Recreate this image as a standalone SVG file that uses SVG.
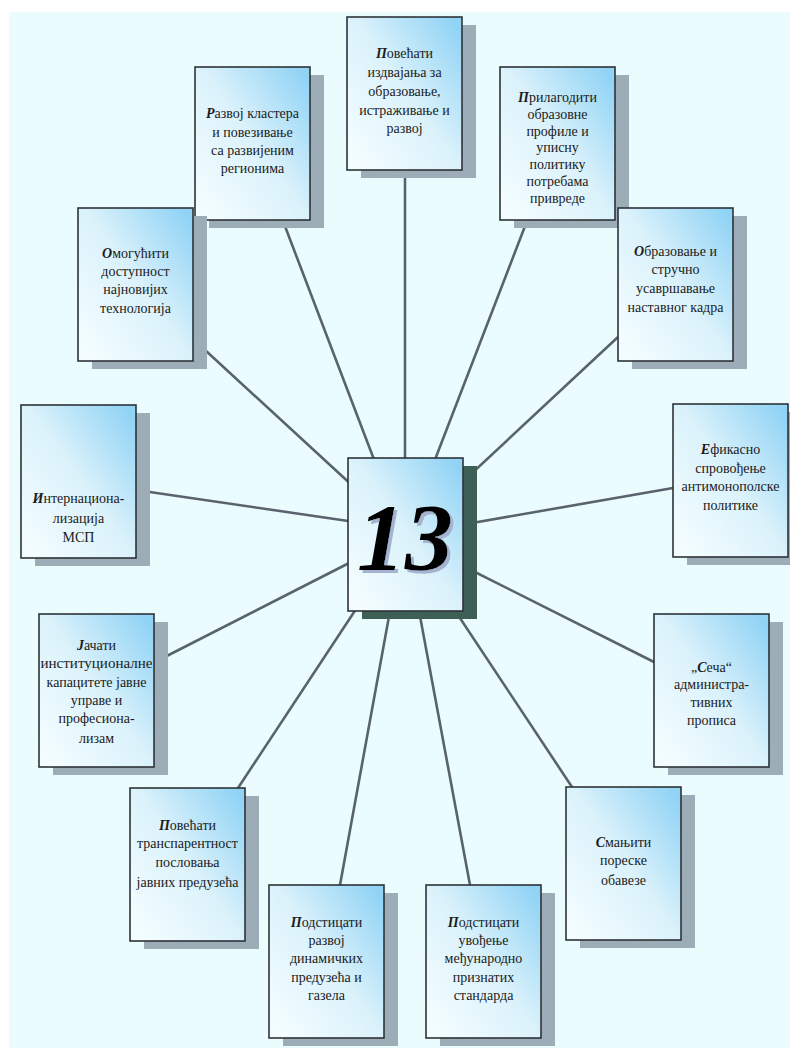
<svg xmlns="http://www.w3.org/2000/svg" width="790" height="1048" viewBox="0 0 790 1048">
<defs>
<linearGradient id="g" x1="0.05" y1="0.9" x2="0.95" y2="0.05">
<stop offset="0" stop-color="#f3fdff"/>
<stop offset="0.5" stop-color="#dbf2fb"/>
<stop offset="1" stop-color="#91d3f5"/>
</linearGradient>
<filter id="ts" x="-10%" y="-10%" width="130%" height="130%">
<feDropShadow dx="3" dy="3" stdDeviation="0.6" flood-color="#a3b3d0" flood-opacity="1"/>
</filter>
<style>
.bx{fill:url(#g);stroke:#2e3338;stroke-width:1.6}
.sh{fill:#9cadb7}
.shc{fill:#3e5f56}
.t{font-family:"Liberation Serif","DejaVu Serif",serif;font-size:14px;fill:#1b1b1b;text-anchor:middle}
.f{font-weight:bold;font-style:italic}
.c line{stroke:#5a636d;stroke-width:2.6;stroke-linecap:round}
.big{font-family:"Liberation Serif","DejaVu Serif",serif;font-size:96px;font-weight:bold;font-style:italic;text-anchor:middle;fill:#000000}
</style>
</defs>
<rect x="0" y="0" width="790" height="1048" fill="#ffffff"/>
<rect x="9" y="12" width="781" height="1036" fill="#ebfcfe"/>

<g id="connectors" class="c">
<line x1="405" y1="170" x2="405" y2="470"/>
<line x1="283" y1="221" x2="378" y2="470"/>
<line x1="527" y1="221" x2="431" y2="470"/>
<line x1="192" y1="338" x2="355" y2="488"/>
<line x1="618" y1="337" x2="455" y2="489"/>
<line x1="136" y1="490" x2="355" y2="522"/>
<line x1="673" y1="488" x2="455" y2="526"/>
<line x1="654" y1="662" x2="455" y2="562"/>
<line x1="155" y1="662" x2="355" y2="560"/>
<line x1="238" y1="788" x2="362" y2="600"/>
<line x1="340" y1="885" x2="392" y2="600"/>
<line x1="470" y1="885" x2="417" y2="600"/>
<line x1="572" y1="787" x2="448" y2="600"/>
</g>

<g id="n1">
<rect class="sh" x="361" y="25" width="115" height="153"/>
<rect class="bx" x="347" y="17" width="115" height="153"/>
<text class="t"><tspan x="404.5" y="58"><tspan class="f">П</tspan>овећати</tspan><tspan x="404.5" y="77">издвајања за</tspan><tspan x="404.5" y="96">образовање,</tspan><tspan x="404.5" y="115">истраживање и</tspan><tspan x="404.5" y="133">развој</tspan></text>
</g>

<g id="n2">
<rect class="sh" x="209" y="75" width="115" height="153"/>
<rect class="bx" x="195" y="67" width="115" height="153"/>
<text class="t"><tspan x="252.5" y="118"><tspan class="f">Р</tspan>азвој кластера</tspan><tspan x="252.5" y="137">и повезивање</tspan><tspan x="252.5" y="155">са развијеним</tspan><tspan x="252.5" y="173">регионима</tspan></text>
</g>

<g id="n3">
<rect class="sh" x="514" y="75" width="115" height="153"/>
<rect class="bx" x="500" y="67" width="115" height="153"/>
<text class="t"><tspan x="557.5" y="102"><tspan class="f">П</tspan>рилагодити</tspan><tspan x="557.5" y="119">образовне</tspan><tspan x="557.5" y="135.5">профиле и</tspan><tspan x="557.5" y="152">уписну</tspan><tspan x="557.5" y="169">политику</tspan><tspan x="557.5" y="186">потребама</tspan><tspan x="557.5" y="203">привреде</tspan></text>
</g>

<g id="n4">
<rect class="sh" x="632" y="216" width="115" height="153"/>
<rect class="bx" x="618" y="208" width="115" height="153"/>
<text class="t"><tspan x="675.5" y="256"><tspan class="f">О</tspan>бразовање и</tspan><tspan x="675.5" y="274">стручно</tspan><tspan x="675.5" y="293">усавршавање</tspan><tspan x="675.5" y="312">наставног кадра</tspan></text>
</g>

<g id="n5">
<rect class="sh" x="92" y="216" width="115" height="153"/>
<rect class="bx" x="78" y="208" width="115" height="153"/>
<text class="t"><tspan x="135.5" y="258"><tspan class="f">О</tspan>могућити</tspan><tspan x="135.5" y="276">доступност</tspan><tspan x="135.5" y="294">најновијих</tspan><tspan x="135.5" y="313">технологија</tspan></text>
</g>

<g id="n6">
<rect class="sh" x="35" y="413" width="115" height="153"/>
<rect class="bx" x="21" y="405" width="115" height="153"/>
<text class="t"><tspan x="78.5" y="503"><tspan class="f">И</tspan>нтернациона-</tspan><tspan x="78.5" y="523">лизација</tspan><tspan x="78.5" y="542">МСП</tspan></text>
</g>

<g id="n8">
<rect class="sh" x="687" y="412" width="115" height="153"/>
<rect class="bx" x="673" y="404" width="115" height="153"/>
<text class="t"><tspan x="730.5" y="454"><tspan class="f">Е</tspan>фикасно</tspan><tspan x="730.5" y="473">спровођење</tspan><tspan x="730.5" y="491">антимонополске</tspan><tspan x="730.5" y="510">политике</tspan></text>
</g>

<g id="n9">
<rect class="sh" x="668" y="622" width="115" height="153"/>
<rect class="bx" x="654" y="614" width="115" height="153"/>
<text class="t"><tspan x="711.5" y="672">„<tspan class="f">С</tspan>еча“</tspan><tspan x="711.5" y="689">администра-</tspan><tspan x="711.5" y="707">тивних</tspan><tspan x="711.5" y="725">прописа</tspan></text>
</g>

<g id="n10">
<rect class="sh" x="53" y="622" width="115" height="153"/>
<rect class="bx" x="39" y="614" width="115" height="153"/>
<text class="t"><tspan x="96.5" y="650"><tspan class="f">Ј</tspan>ачати</tspan><tspan x="96.5" y="668" textLength="112" lengthAdjust="spacingAndGlyphs">институционалне</tspan><tspan x="96.5" y="687">капацитете јавне</tspan><tspan x="96.5" y="705">управе и</tspan><tspan x="96.5" y="723">професиона-</tspan><tspan x="96.5" y="743">лизам</tspan></text>
</g>

<g id="n11">
<rect class="sh" x="144" y="796" width="115" height="153"/>
<rect class="bx" x="130" y="788" width="115" height="153"/>
<text class="t"><tspan x="187.5" y="830"><tspan class="f">П</tspan>овећати</tspan><tspan x="187.5" y="848">транспарентност</tspan><tspan x="187.5" y="867">пословања</tspan><tspan x="187.5" y="887">јавних предузећа</tspan></text>
</g>

<g id="n12">
<rect class="sh" x="283" y="893" width="115" height="153"/>
<rect class="bx" x="269" y="885" width="115" height="153"/>
<text class="t"><tspan x="326.5" y="927"><tspan class="f">П</tspan>одстицати</tspan><tspan x="326.5" y="945">развој</tspan><tspan x="326.5" y="963">динамичких</tspan><tspan x="326.5" y="982">предузећа и</tspan><tspan x="326.5" y="1000">газела</tspan></text>
</g>

<g id="n13">
<rect class="sh" x="440" y="893" width="115" height="153"/>
<rect class="bx" x="426" y="885" width="115" height="153"/>
<text class="t"><tspan x="483.5" y="927"><tspan class="f">П</tspan>одстицати</tspan><tspan x="483.5" y="945">увођење</tspan><tspan x="483.5" y="963">међународно</tspan><tspan x="483.5" y="982">признатих</tspan><tspan x="483.5" y="1000">стандарда</tspan></text>
</g>

<g id="n14">
<rect class="sh" x="580" y="795" width="115" height="153"/>
<rect class="bx" x="566" y="787" width="115" height="153"/>
<text class="t"><tspan x="623.5" y="847"><tspan class="f">С</tspan>мањити</tspan><tspan x="623.5" y="865">пореске</tspan><tspan x="623.5" y="885">обавезе</tspan></text>
</g>

<g id="center">
<rect class="shc" x="362" y="466" width="115" height="153"/>
<rect class="bx" x="348" y="458" width="115" height="153"/>
<text class="big" x="405" y="570" filter="url(#ts)">13</text>
</g>
</svg>
